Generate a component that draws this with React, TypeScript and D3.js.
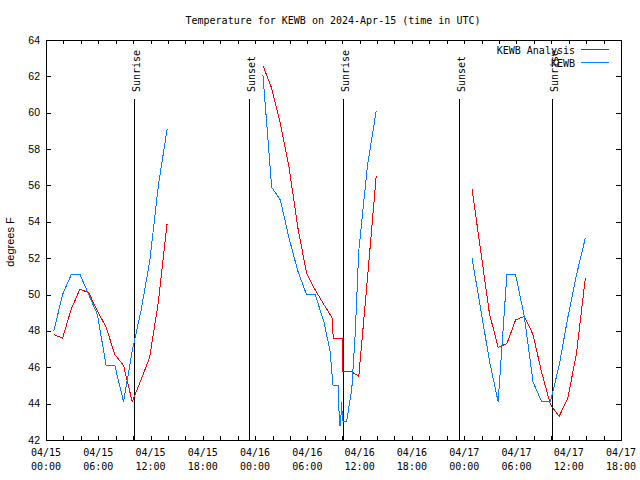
import React from "react";
import * as d3 from "d3";

// ---- Data (hours since 2024-04-15 00:00 UTC) ----
const analysisHours: (number | null)[] = [
  0.9, 1.9, 2.9, 3.9, 4.9, 5.9, 6.9, 7.9, 8.9, 9.9, 10.9, 11.9, 12.9, 13.9, null,
  24.9, 25.9, 26.9, 27.9, 28.9, 29.9, 30.9, 31.9, 32.85, 32.97, 33.98, 34.0, 35.1, 35.9, 36.9, 37.9, null,
  48.9, 49.9, 50.9, 51.9, 52.9, 53.9, 54.9, 55.9, 56.9, 57.9, 58.9, 59.9, 60.9, 61.9,
];
const analysisTemps: (number | null)[] = [
  47.8, 47.6, 49.2, 50.3, 50.1, 49.1, 48.2, 46.7, 46.1, 44.1, 45.3, 46.55, 49.6, 53.9, null,
  62.6, 61.35, 59.4, 57.0, 53.7, 51.2, 50.25, 49.45, 48.7, 47.6, 47.6, 45.75, 45.75, 45.5, 50.9, 56.5, null,
  55.8, 52.4, 48.95, 47.1, 47.3, 48.6, 48.8, 47.8, 45.7, 43.95, 43.3, 44.3, 46.8, 50.9,
];

const obsHours: (number | null)[] = [
  0.9, 1.9, 2.9, 3.9, 4.9, 5.9, 6.9, 7.9, 8.9, 9.9, 10.9, 11.9, 12.9, 13.9, null,
  24.9, 25.9, 26.9, 27.9, 28.9, 29.9, 30.9, 31.9, 32.6, 32.95, 33.55, 33.68, 33.85, 33.88, 33.97, 34.1, 34.5,
  34.9, 35.1, 35.5, 35.9, 36.9, 37.9, null,
  48.9, 49.9, 50.9, 51.9, 52.9, 53.9, 54.9, 55.9, 56.9, 57.9, 58.9, 59.9, 60.9, 61.9,
];
const obsTemps: (number | null)[] = [
  48.0, 50.0, 51.1, 51.1, 50.0, 48.9, 46.1, 46.1, 44.1, 46.9, 49.1, 51.8, 56.0, 59.1, null,
  62.1, 55.9, 55.2, 53.1, 51.3, 50.0, 50.0, 48.5, 46.9, 45.0, 45.0, 42.8, 42.8, 44.1, 43.6, 43.0, 43.0,
  44.2, 44.8, 47.9, 52.4, 57.1, 60.1, null,
  52.0, 49.2, 46.35, 44.1, 51.1, 51.1, 48.8, 45.2, 44.1, 44.1, 46.1, 48.75, 51.1, 53.1,
];

const sunEventHours = [10.1, 23.35, 34.1, 47.42, 58.07];
const sunEventLabels = ["Sunrise", "Sunset", "Sunrise", "Sunset", "Sunrise"];

const seriesNames = ["KEWB Analysis", "KEWB"];
const seriesColors = ["#ff0000", "#0080ff"];

const yTicks = [42, 44, 46, 48, 50, 52, 54, 56, 58, 60, 62, 64];

const T0 = Date.UTC(2024, 3, 15, 0, 0);
const T1 = Date.UTC(2024, 3, 17, 18, 0);
const toDate = (h: number) => new Date(T0 + h * 3600 * 1000);

const W = 640;
const H = 480;
const L = 46;
const R = 621;
const TOP = 40;
const BOT = 440;
const MONO = "'DejaVu Sans Mono', monospace";
const SANS = "'Liberation Sans', Arial, sans-serif";

export default function App() {
  const x = d3.scaleUtc().domain([new Date(T0), new Date(T1)]).range([L, R]);
  const y = d3.scaleLinear().domain([42, 64]).range([BOT, TOP]);

  const makePts = (hs: (number | null)[], vs: (number | null)[]) =>
    hs.map((h, i) => ({ h, v: vs[i] }));

  const line = d3
    .line<{ h: number | null; v: number | null }>()
    .defined((d) => d.h !== null && d.v !== null)
    .x((d) => x(toDate(d.h as number)))
    .y((d) => y(d.v as number));

  const minorTicks = d3.utcHour.every(2)!.range(new Date(T0), new Date(T1 + 1));
  const majorTicks = d3.utcHour.every(6)!.range(new Date(T0), new Date(T1 + 1));
  const fmtDate = d3.utcFormat("%m/%d");
  const fmtTime = d3.utcFormat("%H:%M");

  const series = [
    makePts(analysisHours, analysisTemps),
    makePts(obsHours, obsTemps),
  ];

  return (
    <svg
      width={W}
      height={H}
      style={{ position: "absolute", left: 0, top: 0, background: "#fff" }}
      shapeRendering="crispEdges"
    >
      <rect x={0} y={0} width={W} height={H} fill="#fff" />
      {/* title */}
      <text x={333} y={24} fontFamily={MONO} fontSize={10} textAnchor="middle" fill="#000">
        Temperature for KEWB on 2024-Apr-15 (time in UTC)
      </text>

      {/* x ticks */}
      {minorTicks.map((t, i) => {
        const xx = Math.round(x(t)) + 0.5;
        return (
          <g key={"xt" + i}>
            <line x1={xx} x2={xx} y1={BOT} y2={BOT - 4} stroke="#000" />
            <line x1={xx} x2={xx} y1={TOP} y2={TOP + 4} stroke="#000" />
          </g>
        );
      })}
      {majorTicks.map((t, i) => (
        <g key={"xl" + i} fontFamily={MONO} fontSize={10} fill="#000" textAnchor="middle">
          <text x={x(t)} y={456}>{fmtDate(t)}</text>
          <text x={x(t)} y={470}>{fmtTime(t)}</text>
        </g>
      ))}

      {/* y ticks */}
      {yTicks.map((v) => {
        const yy = Math.round(y(v)) + 0.5;
        return (
          <g key={"yt" + v}>
            <line x1={L} x2={L + 5} y1={yy} y2={yy} stroke="#000" />
            <line x1={R} x2={R - 5} y1={yy} y2={yy} stroke="#000" />
            <text x={40} y={y(v) + 3.5} fontFamily={SANS} fontSize={10.5} textAnchor="end" fill="#000">
              {v}
            </text>
          </g>
        );
      })}
      <text
        transform={`translate(14,242) rotate(-90)`}
        fontFamily={SANS}
        fontSize={11}
        textAnchor="middle"
        fill="#000"
      >
        degrees F
      </text>

      {/* sunrise / sunset */}
      {sunEventHours.map((h, i) => {
        const xx = Math.round(x(toDate(h))) + 0.5;
        return (
          <g key={"sun" + i}>
            <line x1={xx} x2={xx} y1={99} y2={BOT} stroke="#000" />
            <text
              transform={`translate(${xx + 5},92) rotate(-90)`}
              fontFamily={MONO}
              fontSize={10}
              fill="#000"
            >
              {sunEventLabels[i]}
            </text>
          </g>
        );
      })}

      {/* data */}
      {series.map((pts, i) => (
        <path key={"s" + i} d={line(pts) || ""} fill="none" stroke={seriesColors[i]} strokeWidth={1} />
      ))}

      {/* legend */}
      {seriesNames.map((n, i) => (
        <g key={"lg" + i}>
          <text x={575} y={53.5 + i * 13} fontFamily={MONO} fontSize={10} textAnchor="end" fill="#000">
            {n}
          </text>
          <line x1={581} x2={609} y1={49.5 + i * 13} y2={49.5 + i * 13} stroke={seriesColors[i]} />
        </g>
      ))}

      {/* frame */}
      <rect x={L + 0.5} y={TOP + 0.5} width={R - L} height={BOT - TOP} fill="none" stroke="#000" />
    </svg>
  );
}
